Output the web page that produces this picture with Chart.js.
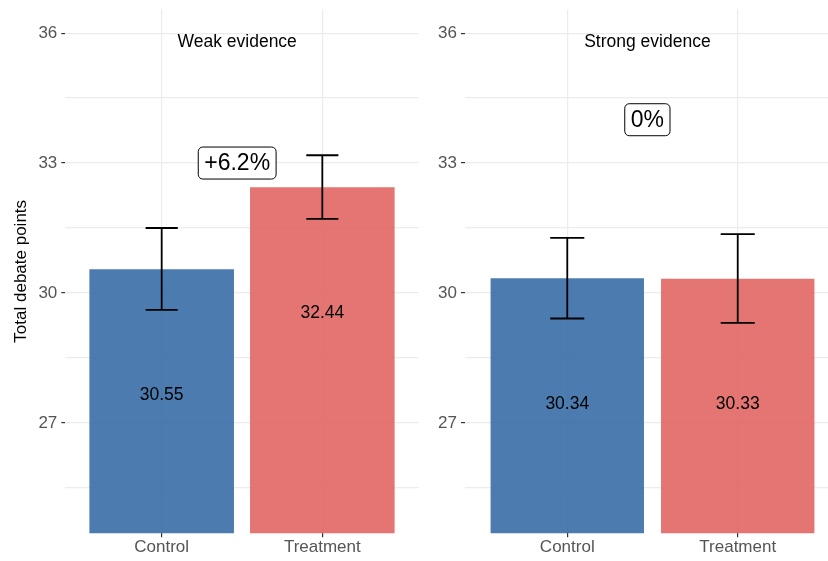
<!DOCTYPE html>
<html>
<head>
<meta charset="utf-8">
<script src="https://cdn.jsdelivr.net/npm/chart.js@4/dist/chart.umd.min.js"></script>
<style>
  html, body { margin: 0; padding: 0; background: #fff; overflow: hidden; }
  #wrap { position: relative; width: 828px; height: 561px; overflow: hidden; }
  canvas { position: absolute; top: 0; }
</style>
</head>
<body>
<div id="wrap">
  <canvas id="weak" width="420" height="561" style="left:0"></canvas>
  <canvas id="strong" width="425" height="561" style="left:420px"></canvas>
</div>
<script>
// Categories and per-panel values
const categories = ['Control', 'Treatment'];
const weakMeans = [30.55, 32.44];
const weakLower = [29.61, 31.71];
const weakUpper = [31.50, 33.18];
const strongMeans = [30.34, 30.33];
const strongLower = [29.41, 29.31];
const strongUpper = [31.27, 31.36];
const panelTitles = ['Weak evidence', 'Strong evidence'];
const changeLabels = ['+6.2%', '0%'];

// Y axis ticks: labelled majors and unlabelled minors
const majorTicks = [27, 30, 33, 36];
const minorTicks = [25.5, 28.5, 31.5, 34.5];

const FONT = "'Liberation Sans', Arial, sans-serif";
const barColors = ['rgba(56,110,166,0.9)', 'rgba(225,102,99,0.9)'];
const gridColor = '#ececec';
const tickColor = '#333333';
const axisText = '#555555';

// Error bars, value labels, panel title and percent-change box
const panelDecor = {
  id: 'panelDecor',
  afterDatasetsDraw(chart, args, opts) {
    const { ctx } = chart;
    const x = chart.scales.x, y = chart.scales.y;
    ctx.save();

    // error bars
    ctx.strokeStyle = '#000';
    ctx.lineWidth = 1.8;
    opts.lower.forEach((lo, i) => {
      const px = x.getPixelForValue(i);
      const hw = x.getPixelForValue(i + opts.capWidth / 2) - px;
      const yl = y.getPixelForValue(lo);
      const yh = y.getPixelForValue(opts.upper[i]);
      ctx.beginPath();
      ctx.moveTo(px, yl); ctx.lineTo(px, yh);
      ctx.moveTo(px - hw, yl); ctx.lineTo(px + hw, yl);
      ctx.moveTo(px - hw, yh); ctx.lineTo(px + hw, yh);
      ctx.stroke();
    });

    // value labels inside the bars
    ctx.fillStyle = '#000';
    ctx.font = '17.5px ' + FONT;
    ctx.textAlign = 'center';
    ctx.textBaseline = 'middle';
    opts.means.forEach((m, i) => {
      ctx.fillText(m.toFixed(2), x.getPixelForValue(i), y.getPixelForValue(m - opts.labelDrop));
    });

    // panel title
    ctx.fillText(opts.title, x.getPixelForValue(opts.annoX), y.getPixelForValue(opts.titleY));

    // percent change in a rounded box
    ctx.font = '23px ' + FONT;
    const tx = x.getPixelForValue(opts.annoX);
    const ty = y.getPixelForValue(opts.changeY);
    const w = ctx.measureText(opts.change).width + 12;
    const h = 32;
    ctx.beginPath();
    ctx.roundRect(tx - w / 2, ty - h / 2, w, h, 4.5);
    ctx.fillStyle = '#fff';
    ctx.fill();
    ctx.lineWidth = 1;
    ctx.strokeStyle = '#000';
    ctx.stroke();
    ctx.fillStyle = '#000';
    ctx.fillText(opts.change, tx, ty + 1);
    ctx.restore();
  }
};

function makePanel(id, means, lower, upper, title, change, changeY, showTitle, yWidth, padRight) {
  return new Chart(document.getElementById(id), {
    type: 'bar',
    data: {
      datasets: [{
        data: means.map((v, i) => ({ x: i, y: v })),
        backgroundColor: barColors,
        borderWidth: 0,
        barPercentage: 0.9,
        categoryPercentage: 1.0
      }]
    },
    options: {
      responsive: false,
      animation: false,
      devicePixelRatio: 1,
      layout: { padding: { top: 9.3, right: padRight, left: 0, bottom: 0 } },
      plugins: {
        legend: { display: false },
        tooltip: { enabled: false },
        panelDecor: {
          means, lower, upper, title, change, changeY,
          capWidth: 0.2, labelDrop: 2.9, annoX: 0.47, titleY: 35.8
        }
      },
      scales: {
        x: {
          type: 'linear',
          offset: false,
          min: -0.6, max: 1.6,
          afterBuildTicks: s => { s.ticks = categories.map((_, i) => ({ value: i })); },
          ticks: {
            callback: v => categories[v],
            color: axisText, font: { family: FONT, size: 17 },
            padding: 0, maxRotation: 0, autoSkip: false
          },
          grid: { offset: false, color: gridColor, lineWidth: 1.2, tickLength: 4, tickColor: tickColor, tickWidth: 1.2 },
          border: { display: false },
          afterFit: s => { s.height = 561 - 533.3; s.paddingLeft = 0; s.paddingRight = 0; }
        },
        y: {
          min: 24.45, max: 36.55,
          afterBuildTicks: s => {
            s.ticks = [...minorTicks, ...majorTicks].sort((a, b) => a - b).map(v => ({ value: v }));
          },
          ticks: {
            callback: v => majorTicks.includes(v) ? String(v) : '',
            color: axisText, font: { family: FONT, size: 17 }, padding: 4
          },
          grid: {
            color: gridColor, lineWidth: 1.2, tickLength: 4, tickWidth: 1.2,
            tickColor: c => (c.tick && majorTicks.includes(c.tick.value)) ? tickColor : 'rgba(0,0,0,0)'
          },
          border: { display: false },
          title: {
            display: showTitle, text: 'Total debate points', color: '#000',
            font: { family: FONT, size: 17 }, padding: { top: 11, bottom: 0 }
          },
          afterFit: s => { s.width = yWidth; s.paddingTop = 0; s.paddingBottom = 0; }
        }
      }
    },
    plugins: [panelDecor]
  });
}

makePanel('weak', weakMeans, weakLower, weakUpper, panelTitles[0], changeLabels[0], 33.0, true, 65.3, 1.3);
makePanel('strong', strongMeans, strongLower, strongUpper, panelTitles[1], changeLabels[1], 34.0, false, 45, 5);
</script>
</body>
</html>
